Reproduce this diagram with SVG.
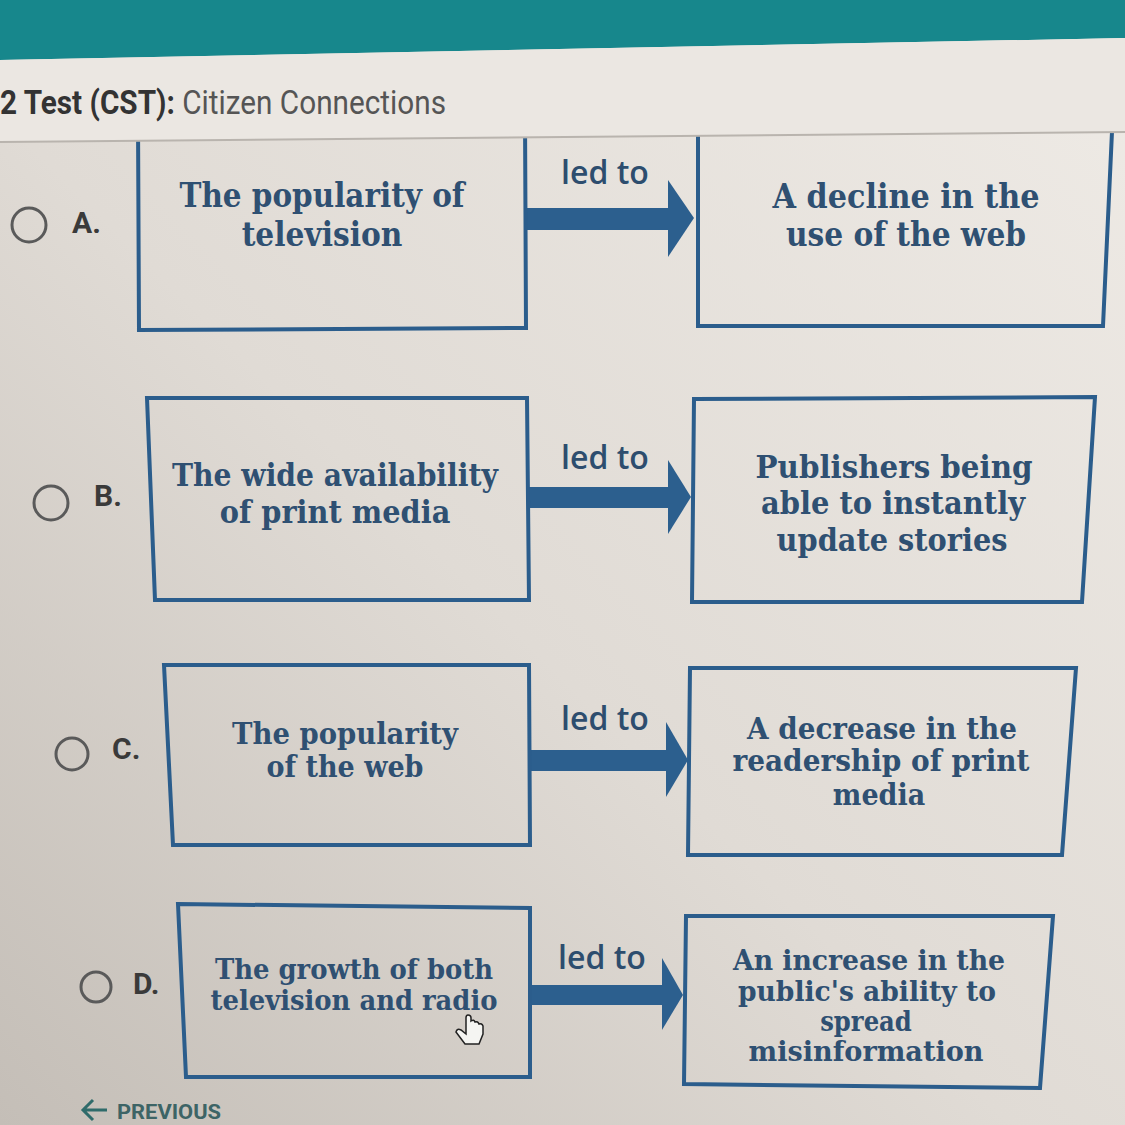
<svg xmlns="http://www.w3.org/2000/svg" width="1125" height="1125" viewBox="0 0 1125 1125">
<defs>
<linearGradient id="bg" x1="1" y1="0" x2="0" y2="1">
<stop offset="0" stop-color="#efebe6"/>
<stop offset="0.55" stop-color="#e0dbd5"/>
<stop offset="1" stop-color="#c4beb7"/>
</linearGradient>
<style>
.box{fill:none;stroke:#2b5d8c;stroke-width:4;stroke-linejoin:miter}
.arr{fill:#2c5f8e}
.t{font-family:"DejaVu Serif Condensed","DejaVu Serif",serif;font-weight:bold;fill:#2f5072;text-anchor:middle}
.led{font-family:"Open Sans","DejaVu Sans",sans-serif;font-weight:600;fill:#2d4d6e;text-anchor:middle;font-size:32px}
.lab{font-family:"Roboto","Liberation Sans",sans-serif;font-weight:bold;fill:#3a3a3a;font-size:30px}
.rad{fill:none;stroke:#5a5a5a;stroke-width:3}
</style>
</defs>
<rect width="1125" height="1125" fill="url(#bg)"/>

<g id="connectors">
<g id="arrow-a"><rect class="arr" x="526" y="208" width="144" height="22"/><polygon class="arr" points="668,180 694,218 668,257"/><text class="led" x="605" y="184">led to</text></g>
<g id="arrow-b"><rect class="arr" x="528" y="487" width="142" height="21"/><polygon class="arr" points="668,460 691,497 668,534"/><text class="led" x="605" y="469">led to</text></g>
<g id="arrow-c"><rect class="arr" x="530" y="750" width="138" height="21"/><polygon class="arr" points="666,722 688,760 666,797"/><text class="led" x="605" y="730" font-size="30">led to</text></g>
<g id="arrow-d"><rect class="arr" x="530" y="985" width="134" height="20"/><polygon class="arr" points="662,958 683,995 662,1030"/><text class="led" x="602" y="969" font-size="29">led to</text></g>
</g>

<g id="option-a">
<circle class="rad" cx="29" cy="225" r="17"/><text class="lab" x="72" y="233">A.</text>
</g>
<g id="node-a1">
<polygon class="box" points="138,120 525,116 526,328 139,330"/>
<text class="t" font-size="33"><tspan x="322" y="207" textLength="285" lengthAdjust="spacingAndGlyphs">The popularity of</tspan><tspan x="322" y="246">television</tspan></text>
</g>
<g id="node-a2">
<polygon class="box" points="698,116 1113,110 1103,326 698,326"/>
<text class="t" font-size="33"><tspan x="906" y="208" textLength="267" lengthAdjust="spacingAndGlyphs">A decline in the</tspan><tspan x="906" y="246">use of the web</tspan></text>
</g>

<g id="header">
<polygon points="0,0 1125,0 1125,38 0,60" fill="#17878c"/>
<polygon points="0,60 1125,38 1125,132 0,142" fill="#ebe7e2"/>
<line x1="0" y1="142" x2="1125" y2="132" stroke="#b9b4ae" stroke-width="2"/>
<text x="0" y="114" font-family="Roboto,'Liberation Sans',sans-serif" font-size="33" fill="#333" textLength="446" lengthAdjust="spacingAndGlyphs"><tspan font-weight="bold">2 Test (CST):</tspan><tspan fill="#555"> Citizen Connections</tspan></text>
</g>

<g id="option-b">
<circle class="rad" cx="51" cy="503" r="17"/><text class="lab" x="94" y="506">B.</text>
</g>
<g id="node-b1">
<polygon class="box" points="147,398 527,398 529,600 155,600"/>
<text class="t" font-size="32"><tspan x="335" y="486" textLength="326" lengthAdjust="spacingAndGlyphs">The wide availability</tspan><tspan x="335" y="523">of print media</tspan></text>
</g>
<g id="node-b2">
<polygon class="box" points="694,399 1095,397 1082,602 692,602"/>
<text class="t" font-size="32"><tspan x="894" y="478" textLength="277" lengthAdjust="spacingAndGlyphs">Publishers being</tspan><tspan x="893" y="514" textLength="264" lengthAdjust="spacingAndGlyphs">able to instantly</tspan><tspan x="892" y="551">update stories</tspan></text>
</g>

<g id="option-c">
<circle class="rad" cx="72" cy="754" r="16"/><text class="lab" x="112" y="759" font-size="29">C.</text>
</g>
<g id="node-c1">
<polygon class="box" points="164,665 529,665 530,845 173,845"/>
<text class="t" font-size="30"><tspan x="345" y="744" textLength="226" lengthAdjust="spacingAndGlyphs">The popularity</tspan><tspan x="345" y="777">of the web</tspan></text>
</g>
<g id="node-c2">
<polygon class="box" points="690,668 1076,668 1062,855 688,855"/>
<text class="t" font-size="30"><tspan x="882" y="739" textLength="270" lengthAdjust="spacingAndGlyphs">A decrease in the</tspan><tspan x="881" y="771" textLength="297" lengthAdjust="spacingAndGlyphs">readership of print</tspan><tspan x="879" y="805">media</tspan></text>
</g>

<g id="option-d">
<circle class="rad" cx="96" cy="987" r="15"/><text class="lab" x="133" y="994" font-size="27">D.</text>
</g>
<g id="node-d1">
<polygon class="box" points="178,904 530,908 530,1077 186,1077"/>
<text class="t" font-size="28"><tspan x="354" y="979" textLength="278" lengthAdjust="spacingAndGlyphs">The growth of both</tspan><tspan x="354" y="1010" textLength="287" lengthAdjust="spacingAndGlyphs">television and radio</tspan></text>
</g>
<g id="node-d2">
<polygon class="box" points="686,916 1053,916 1040,1088 684,1084"/>
<text class="t" font-size="27"><tspan x="869" y="970" textLength="272" lengthAdjust="spacingAndGlyphs">An increase in the</tspan><tspan x="867" y="1001" textLength="258" lengthAdjust="spacingAndGlyphs">public's ability to</tspan><tspan x="866" y="1031">spread</tspan><tspan x="866" y="1061" textLength="235" lengthAdjust="spacingAndGlyphs">misinformation</tspan></text>
</g>

<path d="M466,1018 v16 l-5,-4 q-4,-2 -5,2 l9,12 h14 l4,-10 v-8 q-1,-3 -4,-2 q-1,-3 -4,-2 q-1,-3 -4,-1 v-3 q0,-3 -3,-3 q-2,0 -2,3 z" fill="#f5f5f2" stroke="#222" stroke-width="1.5"/>

<g id="previous">
<path d="M83,1110 h24 M93,1100 l-10,10 l10,10" fill="none" stroke="#2f6b6a" stroke-width="3"/>
<text x="117" y="1119" font-family="Roboto,'Liberation Sans',sans-serif" font-weight="bold" font-size="20" fill="#3d6466" textLength="104" lengthAdjust="spacingAndGlyphs">PREVIOUS</text>
</g>
</svg>
